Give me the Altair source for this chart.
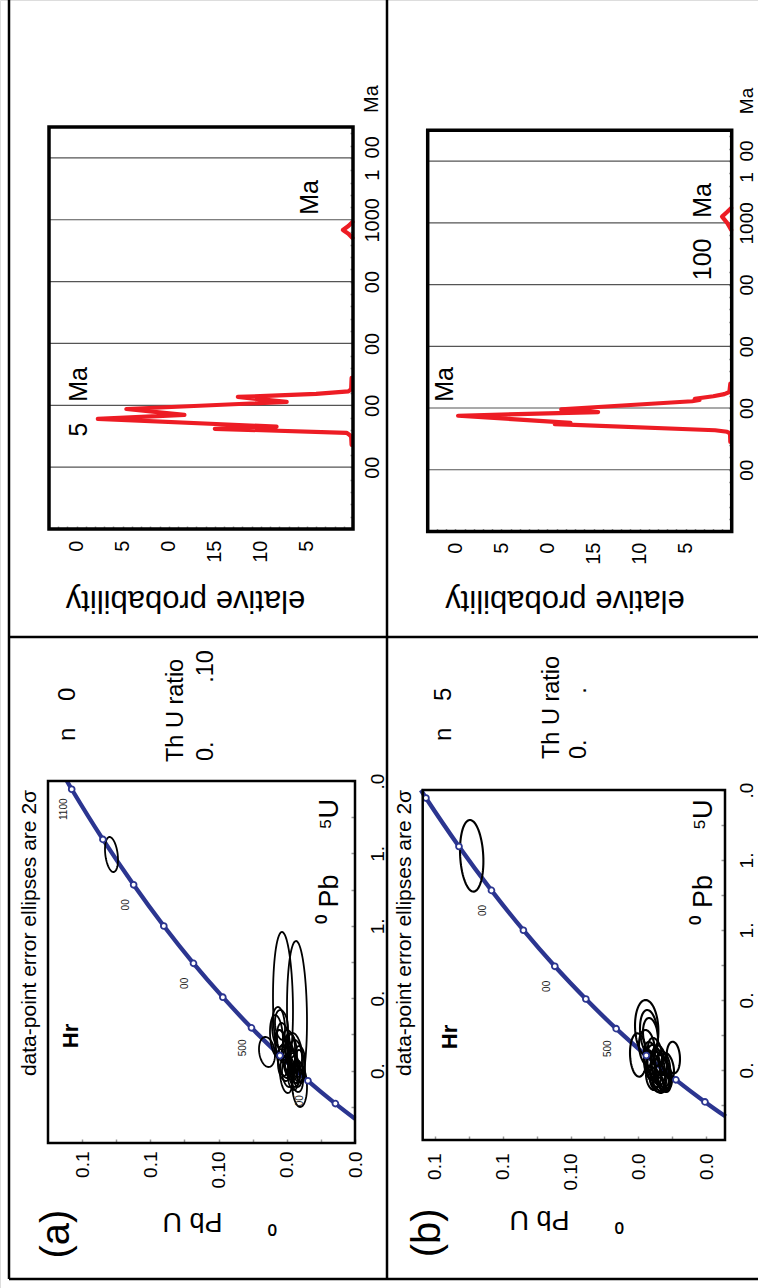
import json
import numpy as np
import pandas as pd
import altair as alt

FONT = "Liberation Sans"
NB = "\u00a0"
W, H = 758, 1288
RED, BLUE = "#ed1c24", "#2b3590"

# ======================= DATA =======================
# relative-probability curves (age in Ma, relative probability)
a_pdf_age = [272, 299, 305, 311, 324, 331, 356, 369, 388, 411, 427, 437, 445, 452, 489]
a_pdf_prob = [0.15, 0.2, 0.4, 0.7, 15.0, 8.3, 27.7, 18.3, 24.6, 7.2, 12.5, 4.0, 0.5, 0.2, 0.15]
a_pdf2_age = [941, 955, 967, 980, 993]
a_pdf2_prob = [0.05, 0.5, 1.1, 0.5, 0.05]

b_pdf_age = [290, 318, 323, 328, 348, 352, 375, 387, 396, 422, 426, 430, 438, 445, 452, 479]
b_pdf_prob = [0.15, 0.18, 0.5, 1.8, 19.2, 17.5, 29.7, 14.5, 18.5, 4.3, 3.5, 4.0, 2.0, 0.8, 0.25, 0.15]
b_pdf2_age = [977, 1000, 1020, 1035, 1048]
b_pdf2_prob = [0.05, 0.5, 1.05, 0.5, 0.05]

# probability-plot axes
age_grid = [200, 400, 600, 800, 1000, 1200]
age_text = [NB * 2 + "00", NB * 2 + "00", NB * 2 + "00", NB * 2 + "00", "1000", "1" + NB * 2 + "00"]
age_minor = list(range(40, 1300, 40))
prob_major = [5, 10, 15, 20, 25, 30]
prob_text = ["5", "10", "15", NB * 2 + "0", NB * 2 + "5", NB * 2 + "0"]
prob_minor = list(range(1, 33))

# concordia curve (age Ma, 207Pb/235U, 206Pb/238U)
conc_age = [200, 300, 400, 500, 600, 700, 800, 900, 1000, 1100]
conc_r207 = [0.2177, 0.3437, 0.4828, 0.6362, 0.8056, 0.9925, 1.1987, 1.4264, 1.6774, 1.9545]
conc_r206 = [0.0315, 0.0476, 0.0640, 0.0807, 0.0975, 0.1147, 0.1321, 0.1498, 0.1678, 0.1861]
conc_end_age = [127.7, 1115.5]
conc_end_r207 = [0.1340, 2.0]
conc_end_r206 = [0.0200, 0.1889]
conc_lab_a_age = [300, 500, 700, 900, 1100]
conc_lab_a_text = [NB * 2 + "00", "500", NB * 2 + "00", NB * 2 + "00", "1100"]
conc_lab_b_age = [500, 700, 900]
conc_lab_b_text = ["500", NB * 2 + "00", NB * 2 + "00"]

# concordia axes
r207_ticks = [0.2, 0.4, 0.6, 0.8, 1.0, 1.2, 1.4, 1.6, 1.8, 2.0]
r207_text = ["", "0." + NB * 2, "", "0." + NB * 2, "", "1." + NB * 2, "", "1." + NB * 2, "", NB * 2 + ".0"]
r206_a_ticks = [0.02, 0.04, 0.06, 0.08, 0.10, 0.12, 0.14, 0.16, 0.18]
r206_b_ticks = [0.0309, 0.0497, 0.0685, 0.0873, 0.1060, 0.1248, 0.1436, 0.1624, 0.1812]
r206_text = ["0.0" + NB * 2, "", "0.0" + NB * 2, "", "0.10", "", "0.1" + NB * 2, "", "0.1" + NB * 2]

# error ellipses (a): centre 206/238, centre 207/235, half-width 206/238, half-height 207/235, rho
ea_v = [0.06222, 0.05401, 0.16277, 0.07160, 0.06485, 0.06603, 0.06192, 0.05752, 0.05518, 0.06016,
        0.05254, 0.05225, 0.06309, 0.05899, 0.05782, 0.05577, 0.06104, 0.05459, 0.05958, 0.05694,
        0.05342, 0.05811, 0.05518, 0.06339, 0.05635, 0.06309, 0.05401, 0.05870, 0.06163, 0.05225]
ea_u = [0.7680, 0.7127, 1.5939, 0.5028, 0.6409, 0.5912, 0.5608, 0.5055, 0.4862, 0.3757,
        0.3204, 0.4227, 0.5331, 0.4779, 0.4392, 0.4033, 0.4503, 0.4862, 0.3785, 0.4503,
        0.3978, 0.4199, 0.3867, 0.5691, 0.3564, 0.6519, 0.3591, 0.5470, 0.4144, 0.4696]
ea_sv = [0.00586, 0.00586, 0.00381, 0.00469, 0.00381, 0.00381, 0.00381, 0.00352, 0.00469, 0.00381,
         0.00440, 0.00293, 0.00381, 0.00381, 0.00440, 0.00352, 0.00410, 0.00352, 0.00322, 0.00293,
         0.00293, 0.00293, 0.00293, 0.00293, 0.00293, 0.00381, 0.00352, 0.00352, 0.00352, 0.00293]
ea_su = [0.3978, 0.4033, 0.0967, 0.0829, 0.1105, 0.1160, 0.1022, 0.1022, 0.1215, 0.0994,
         0.1215, 0.0912, 0.0912, 0.0912, 0.0912, 0.0939, 0.0912, 0.0829, 0.0691, 0.0635,
         0.0608, 0.0552, 0.0552, 0.0552, 0.0635, 0.0829, 0.0773, 0.0773, 0.0718, 0.0663]
ea_rho = [0.1, 0.1, 0.3, 0.2, 0.1, 0.2, 0.3, 0.2, 0.3, 0.2, 0.1, 0.2, 0.4, 0.3, 0.3,
          0.2, 0.3, 0.2, 0.3, 0.3, 0.2, 0.3, 0.3, 0.3, 0.2, 0.2, 0.2, 0.3, 0.3, 0.2]

# error ellipses (b)
eb_v = [0.16075, 0.06378, 0.06251, 0.06168, 0.06844, 0.04905, 0.06085, 0.05863, 0.05642, 0.05475,
        0.05752, 0.05974, 0.05531, 0.05309, 0.05808, 0.06196, 0.05420, 0.05642, 0.05198, 0.05919,
        0.05697, 0.06085, 0.06362, 0.05420, 0.05586]
eb_u = [1.6240, 0.6383, 0.6114, 0.5971, 0.4857, 0.4714, 0.4571, 0.4286, 0.4114, 0.3886,
        0.3714, 0.4000, 0.3543, 0.3771, 0.3314, 0.4286, 0.3314, 0.4571, 0.4229, 0.5029,
        0.3143, 0.3543, 0.5257, 0.4400, 0.3886]
eb_sv = [0.00648, 0.00648, 0.00499, 0.00416, 0.00460, 0.00371, 0.00443, 0.00499, 0.00499, 0.00443,
         0.00443, 0.00388, 0.00388, 0.00332, 0.00388, 0.00332, 0.00332, 0.00388, 0.00332, 0.00388,
         0.00332, 0.00332, 0.00443, 0.00332, 0.00554]
eb_su = [0.2046, 0.1617, 0.1314, 0.1000, 0.1240, 0.0903, 0.1029, 0.1143, 0.1086, 0.0971,
         0.0914, 0.0971, 0.0743, 0.0800, 0.0571, 0.0857, 0.0514, 0.0857, 0.0743, 0.0800,
         0.0457, 0.0686, 0.1029, 0.0686, 0.1143]
eb_rho = [0.15, 0.1, 0.2, 0.2, 0.1, 0.1, 0.4, 0.4, 0.5, 0.4, 0.4, 0.3, 0.4, 0.4, 0.3,
          0.3, 0.3, 0.4, 0.4, 0.3, 0.3, 0.3, 0.2, 0.4, 0.5]

# ======================= LAYOUT =======================
# (domain, pixel range) of every panel scale
HA_P = ([0, 33], [353, 49])
HA_A = ([0, 1300], [529, 127])
HB_P = ([0, 33], [731.7, 427.7])
HB_A = ([0, 1300], [531.5, 130.2])
CA_V = ([0.02, 0.20], [355, 48])
CA_U = ([0.0, 2.0], [1143, 781])
CB_V = ([0.0204, 0.1879], [725, 422.7])
CB_U = ([0.0, 2.0], [1140, 790])


def sc(spec):
    return alt.Scale(domain=spec[0], range=spec[1], nice=False, zero=False)


def ex(field, spec, axis=None):
    return alt.X(field, type="quantitative", scale=sc(spec), axis=axis)


def ey(field, spec, axis=None):
    return alt.Y(field, type="quantitative", scale=sc(spec), axis=axis)


def lab_expr(values, labels):
    return "%s[indexof(%s, datum.value)]" % (json.dumps(labels, ensure_ascii=False), json.dumps(values))


def full_labels(ticks, major, texts):
    m = dict(zip(major, texts))
    return [m.get(t, "") for t in ticks]


def make_axis(orient, offset, values, labels, pad, size, tick, title=None, **title_kw):
    if orient == "bottom":
        al, bl = "right", "middle"
    else:
        al, bl = "center", "top"
    kw = dict(orient=orient, offset=offset, values=values, labelExpr=lab_expr(values, labels),
              labelAngle=270, labelAlign=al, labelBaseline=bl, labelPadding=pad,
              labelFont=FONT, labelFontSize=size, labelColor="black", labelOverlap=False,
              labelFlush=False, domain=False, grid=False, ticks=True, tickSize=tick,
              tickColor="#9a9a9a", tickWidth=1.5, title=title)
    if title is not None:
        kw.update(titleFont=FONT, titleColor="black", titleFontWeight="normal",
                  titleAlign="center", titleBaseline="middle")
        kw.update(title_kw)
    return alt.Axis(**kw)


def texts(rows, xs, ys, **mk):
    df = pd.DataFrame(rows, columns=["x", "y", "t"])
    return alt.Chart(df).mark_text(font=FONT, color="black", **mk).encode(
        x=ex("x", xs), y=ey("y", ys), text=alt.Text("t:N"))


one = pd.DataFrame({"d": [0]})


def vrule(x, y0, y1):
    return alt.Chart(one).mark_rule(color="black", strokeWidth=2.5).encode(
        x=alt.value(x), y=alt.value(y0), y2=alt.value(y1))


def hrule(y, x0, x1):
    return alt.Chart(one).mark_rule(color="black", strokeWidth=2.5).encode(
        y=alt.value(y), x=alt.value(x0), x2=alt.value(x1))


def hist_panel(P, A, age, prob, age2, prob2, ax_b, ax_r, title_xy, notes, unit, lab_size=20):
    layers = []
    grid = pd.DataFrame({"a": age_grid, "p0": 0, "p1": 33})
    layers.append(alt.Chart(grid).mark_rule(color="#555555", strokeWidth=1.2).encode(
        y=ey("a", A), x=ex("p0", P), x2="p1"))
    curve = pd.concat([pd.DataFrame({"age": age, "prob": prob, "seg": 0}),
                       pd.DataFrame({"age": age2, "prob": prob2, "seg": 1})])
    layers.append(alt.Chart(curve).mark_line(color=RED, strokeWidth=4.2, strokeJoin="round",
                                             strokeCap="round").encode(
        x=ex("prob", P), y=ey("age", A), detail="seg:N", order="age:Q"))
    xt = prob_minor
    xa = make_axis("bottom", ax_b[0], xt, full_labels(xt, prob_major, prob_text), ax_b[1], 20, 3,
                   title="elative probability", titleAngle=180, titleX=title_xy[0],
                   titleY=title_xy[1], titleFontSize=31)
    yt = age_minor
    ya = make_axis("right", ax_r[0], yt, full_labels(yt, age_grid, age_text), ax_r[1], lab_size, 3)
    frame = pd.DataFrame({"p0": [0], "p1": [33], "a0": [0], "a1": [1300]})
    layers.append(alt.Chart(frame).mark_rect(fill="transparent", stroke="black", strokeWidth=3.5).encode(
        x=ex("p0", P, xa), x2="p1", y=ey("a0", A, ya), y2="a1"))
    layers.append(texts(notes, P, A, angle=270, align="right", baseline="alphabetic", fontSize=25))
    layers.append(texts([unit], P, A, angle=270, align="center", baseline="top", fontSize=lab_size))
    return layers


def ellipse_df(v, u, sv, su, rho):
    t = np.linspace(0, 2 * np.pi, 73)
    rows = []
    for i in range(len(v)):
        r = rho[i]
        for k, tt in enumerate(t):
            rows.append({"id": i, "k": k,
                         "v": v[i] + sv[i] * np.cos(tt),
                         "u": u[i] + su[i] * (r * np.cos(tt) + np.sqrt(1 - r * r) * np.sin(tt))})
    return pd.DataFrame(rows)


def conc_panel(V, U, ell, ell_w, lab_age, lab_text, ax_b, ax_r, v_ticks, ytitle_xy, xtitle_xy, notes):
    layers = []
    line = pd.DataFrame({"age": [conc_end_age[0]] + conc_age + [conc_end_age[1]],
                         "r207": [conc_end_r207[0]] + conc_r207 + [conc_end_r207[1]],
                         "r206": [conc_end_r206[0]] + conc_r206 + [conc_end_r206[1]]})
    layers.append(alt.Chart(line).mark_line(color=BLUE, strokeWidth=4.3, interpolate="catmull-rom").encode(
        x=ex("r206", V), y=ey("r207", U), order="age:Q"))
    layers.append(alt.Chart(ell).mark_line(color="black", strokeWidth=ell_w).encode(
        x=ex("v", V), y=ey("u", U), detail="id:N", order="k:Q"))
    dots = pd.DataFrame({"age": conc_age, "r207": conc_r207, "r206": conc_r206})
    layers.append(alt.Chart(dots).mark_point(shape="circle", filled=True, fill="white", stroke=BLUE,
                                             strokeWidth=1.8, size=34, opacity=1).encode(
        x=ex("r206", V), y=ey("r207", U)))
    lab = dots.set_index("age").loc[lab_age].reset_index()
    lab["t"] = lab_text
    layers.append(alt.Chart(lab).mark_text(font=FONT, fontSize=10, color="#222222", angle=270,
                                           align="center", baseline="middle", dx=-20, dy=-8).encode(
        x=ex("r206", V), y=ey("r207", U), text=alt.Text("t:N")))
    xa = make_axis("bottom", ax_b[0], v_ticks, r206_text, ax_b[1], 19, 4,
                   title="\u2070" + NB * 6 + "Pb" + NB + "U", titleAngle=180,
                   titleX=ytitle_xy[0], titleY=ytitle_xy[1], titleFontSize=27)
    ya = make_axis("right", ax_r[0], r207_ticks, r207_text, ax_r[1], 19, 4,
                   title="\u2070" + NB + "Pb" + NB * 6 + "\u2075U", titleAngle=270,
                   titleX=xtitle_xy[0], titleY=xtitle_xy[1], titleFontSize=27)
    frame = pd.DataFrame({"v0": [V[0][0]], "v1": [V[0][1]], "u0": [0.0], "u1": [2.0]})
    layers.append(alt.Chart(frame).mark_rect(fill="transparent", stroke="black", strokeWidth=2.5).encode(
        x=ex("v0", V, xa), x2="v1", y=ey("u0", U, ya), y2="u1"))
    layers.append(texts([notes["caption"]], V, U, angle=270, align="center", baseline="middle", fontSize=21))
    layers.append(texts([notes["hr"]], V, U, angle=270, align="center", baseline="middle", fontSize=22,
                        fontWeight="bold"))
    layers.append(texts([notes["tag"]], V, U, angle=270, align="center", baseline="middle", fontSize=40))
    layers.append(texts([notes["n"]], V, U, angle=270, align="left", baseline="alphabetic", fontSize=24))
    layers.append(texts(notes["thu"], V, U, angle=270, align="left", baseline="alphabetic", fontSize=23.5))
    return layers


caption = "data-point error ellipses are 2\u03c3"

layers = [
    vrule(9, 0, 1279), vrule(387, 0, 1279), hrule(637, 9, 758), hrule(1279, 9, 758),
]

layers += hist_panel(HA_P, HA_A, a_pdf_age, a_pdf_prob, a_pdf2_age, a_pdf2_prob,
                     ax_b=(526 - H, 11), ax_r=(350 - W, 9), title_xy=(185, 73),
                     notes=[(28.87, 523.9, NB * 2 + "5" + NB * 2 + NB + "Ma"), (3.8, 1128.6, "Ma")],
                     unit=(-0.98, 1390.5, "Ma"))
layers += hist_panel(HB_P, HB_A, b_pdf_age, b_pdf_prob, b_pdf2_age, b_pdf2_prob,
                     ax_b=(528.5 - H, 10.5), ax_r=(728.7 - W, 6), title_xy=(564.5, 70.5),
                     notes=[(30.25, 532.9, "Ma"), (2.25, 1129.0, "100" + NB * 3 + "Ma")],
                     unit=(-0.65, 1394.6, "Ma"), lab_size=19)

layers += conc_panel(CA_V, CA_U, ellipse_df(ea_v, ea_u, ea_sv, ea_su, ea_rho), 1.8,
                     conc_lab_a_age, conc_lab_a_text,
                     ax_b=(1139 - H, 8), ax_r=(351 - W, 13), v_ticks=r206_a_ticks,
                     ytitle_xy=(219, 81), xtitle_xy=(-22, 861),
                     notes={"caption": (0.2106, 1.160, caption),
                            "hr": (0.1865, 0.591, "Hr"),
                            "tag": (0.1947, -0.503, "(a)"),
                            "n": (0.1842, 2.221, "n" + NB * 4 + "0"),
                            "thu": [(0.1208, 2.105, "Th" + NB + "U ratio"),
                                    (0.1033, 2.110, "0." + NB * 9 + ".10")]})
layers += conc_panel(CB_V, CB_U, ellipse_df(eb_v, eb_u, eb_sv, eb_su, eb_rho), 2.1,
                     conc_lab_b_age, conc_lab_b_text,
                     ax_b=(1136 - H, 13), ax_r=(721 - W, 12), v_ticks=r206_b_ticks,
                     ytitle_xy=(566, 82), xtitle_xy=(-18, 861.5),
                     notes={"caption": (0.1977, 1.183, caption),
                            "hr": (0.1728, 0.589, "Hr"),
                            "tag": (0.1850, -0.531, "(b)"),
                            "n": (0.1722, 2.28, "n" + NB * 4 + "5"),
                            "thu": [(0.1124, 2.177, "Th" + NB + "U ratio"),
                                    (0.0974, 2.177, "0." + NB * 7 + ".")]})

chart = alt.layer(*layers).properties(
    width=W, height=H, padding=0, autosize=alt.AutoSizeParams(type="none")
).resolve_scale(x="independent", y="independent").configure_view(stroke="transparent").configure(font=FONT)

chart.save("out.html", embed_options={"renderer": "svg", "actions": False})
